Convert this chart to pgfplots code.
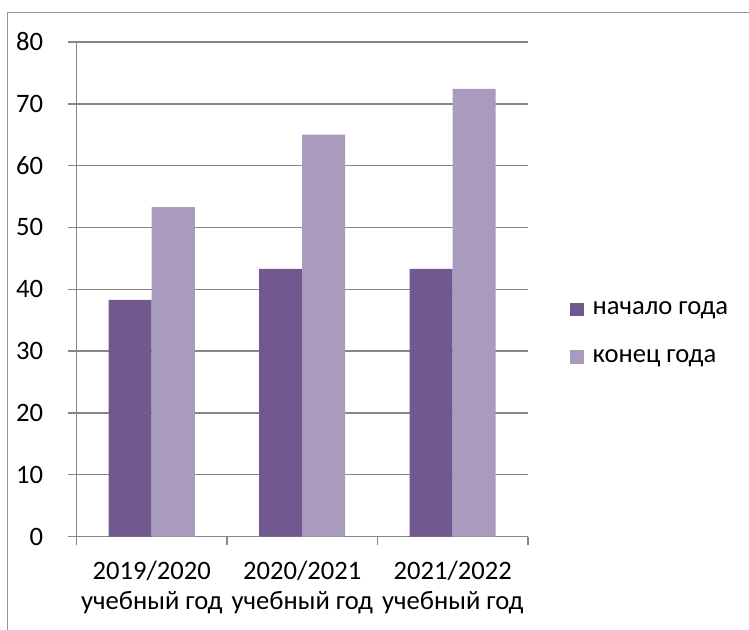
\documentclass[border=0pt]{standalone}
\usepackage{fontspec}
\setmainfont{Carlito}
\usepackage{pgfplots}
\pgfplotsset{compat=1.18}

\definecolor{darkpurple}{RGB}{113,88,143}
\definecolor{lightpurple}{RGB}{169,155,189}
\definecolor{gridgray}{RGB}{134,134,134}
\definecolor{framegray}{RGB}{150,150,150}

\begin{document}
\begin{tikzpicture}[x=1bp,y=1bp]
    \useasboundingbox (0,0) rectangle (374.5,315);
    % chart area frame, cut at the right and bottom
    \draw[framegray, line width=0.8bp] (3.75,-10) -- (3.75,308.75) -- (390,308.75);

    \begin{axis}[
            at={(38.25bp,46.75bp)}, anchor=south west,
            scale only axis,
            width=225.75bp, height=247.25bp,
            ybar=0pt, bar width=21.5bp,
            xmin=-0.5, xmax=2.5,
            ymin=0, ymax=80,
            ytick={0,10,...,80},
            xtick={0,1,2},
            xticklabels={{2019/2020\\учебный год},{2020/2021\\учебный год},{2021/2022\\учебный год}},
            minor xtick={-0.5,0.5,1.5,2.5},
            major x tick style={draw=none},
            tick align=outside,
            major tick length=4.1bp, minor tick length=4.1bp,
            tick style={gridgray, line width=0.75bp},
            axis x line*=bottom, axis y line*=left,
            axis line style={gridgray, line width=0.75bp, -},
            ymajorgrids,
            major grid style={gridgray, line width=0.75bp},
            /pgf/number format/assume math mode=true,
            tick label style={font=\fontsize{13.3bp}{16.5bp}\selectfont},
            yticklabel style={anchor=east, inner xsep=0pt, xshift=-12.4bp},
            xticklabel style={align=center, yshift=-4.5bp,
                font=\fontsize{13.3bp}{15bp}\selectfont},
            legend style={draw=none, fill=none, at={(1.079,0.411)}, anchor=west,
                font=\fontsize{13.3bp}{16.5bp}\selectfont,
                row sep=12bp, legend cell align=left,
                /tikz/every odd column/.append style={column sep=2.5bp}},
        ]
        \addplot[fill=darkpurple, draw=none,
            legend image code/.code={\fill[darkpurple] (0bp,-3.4bp) rectangle (6.8bp,3.4bp);}]
            coordinates {(0,38.3) (1,43.3) (2,43.3)};
        \addplot[fill=lightpurple, draw=none,
            legend image code/.code={\fill[lightpurple] (0bp,-3.4bp) rectangle (6.8bp,3.4bp);}]
            coordinates {(0,53.3) (1,65.0) (2,72.4)};
        \legend{начало года, конец года}
    \end{axis}
\end{tikzpicture}
\end{document}
